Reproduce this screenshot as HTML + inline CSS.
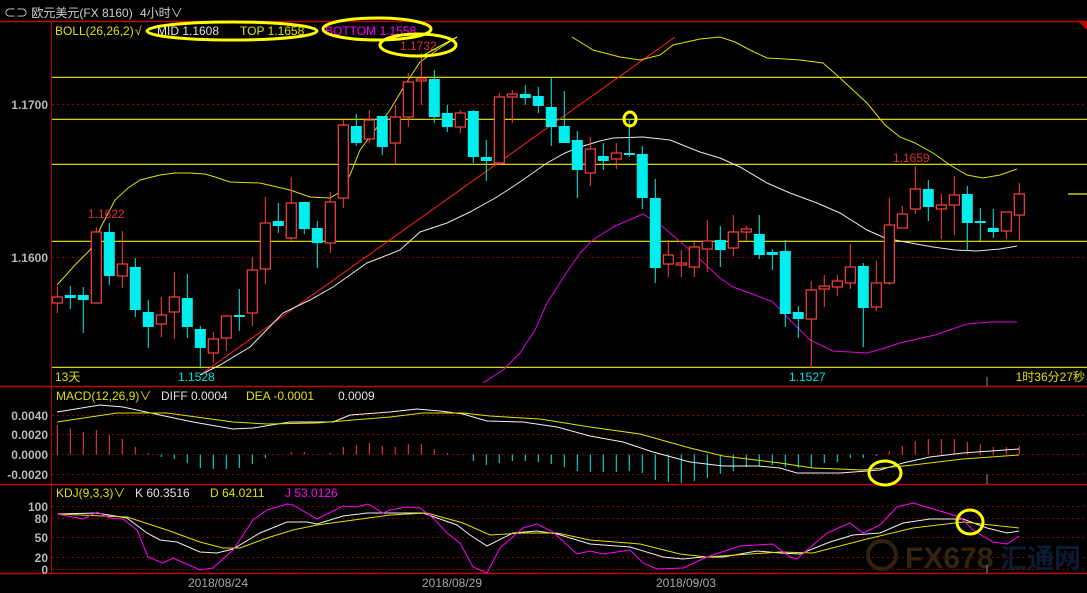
<!DOCTYPE html>
<html><head><meta charset="utf-8"><style>
html,body{margin:0;padding:0;background:#000;}
svg{display:block;font-family:"Liberation Sans","Noto Sans CJK SC",sans-serif;}
</style></head><body>
<svg id="s" width="1087" height="593" viewBox="0 0 1087 593" xmlns="http://www.w3.org/2000/svg">
<rect width="1087" height="593" fill="#000"/>
<text x="4" y="17" fill="#d0d0d0" font-size="12">⊂⊃ 欧元美元(FX 8160)</text>
<text x="140" y="17" fill="#d0d0d0" font-size="12">4小时∨</text>
<line x1="0" y1="21.5" x2="1087" y2="21.5" stroke="#c00000" stroke-width="1.5"/>
<polygon points="1079,22 1087,22 1087,30" fill="#c00000"/>
<line x1="51.5" y1="21" x2="51.5" y2="574" stroke="#c00000"/>
<line x1="0" y1="386.5" x2="1087" y2="386.5" stroke="#c00000" stroke-width="1.5"/>
<line x1="0" y1="484.5" x2="1087" y2="484.5" stroke="#c00000" stroke-width="1.5"/>
<line x1="0" y1="573.5" x2="1087" y2="573.5" stroke="#c00000" stroke-width="1.5"/>
<g stroke="#8a0000" stroke-dasharray="2,3">
<line x1="52" y1="104.5" x2="1087" y2="104.5"/><line x1="52" y1="257.5" x2="1087" y2="257.5"/>
<line x1="52" y1="415.5" x2="1087" y2="415.5"/><line x1="52" y1="434.5" x2="1087" y2="434.5"/>
<line x1="52" y1="454.5" x2="1087" y2="454.5"/><line x1="52" y1="474.5" x2="1087" y2="474.5"/>
<line x1="52" y1="506.5" x2="1087" y2="506.5"/><line x1="52" y1="518.5" x2="1087" y2="518.5"/>
<line x1="52" y1="537.5" x2="1087" y2="537.5"/><line x1="52" y1="557.5" x2="1087" y2="557.5"/>
<line x1="52" y1="569.5" x2="1087" y2="569.5"/>
</g>
<g stroke="#f0f000" stroke-width="1.2">
<line x1="52" y1="77.3" x2="1087" y2="77.3"/><line x1="52" y1="119.3" x2="1087" y2="119.3"/>
<line x1="52" y1="164.3" x2="1087" y2="164.3"/><line x1="52" y1="241.3" x2="1087" y2="241.3"/>
<line x1="52" y1="367.3" x2="1087" y2="367.3"/><line x1="1068" y1="194" x2="1087" y2="194"/>
</g>
<g fill="#b8b8b8" font-size="12" font-weight="bold" text-anchor="end">
<text x="48" y="109">1.1700</text><text x="48" y="262">1.1600</text>
<text x="48" y="420">0.0040</text><text x="48" y="439">0.0020</text>
<text x="48" y="459">0.0000</text><text x="48" y="479">-0.0020</text>
<text x="48" y="511">100</text><text x="48" y="523">80</text>
<text x="48" y="542">50</text><text x="48" y="562">20</text><text x="48" y="574">0</text>
</g>
<g fill="#a8a8a8" font-size="12" text-anchor="middle">
<text x="218" y="587">2018/08/24</text><text x="452" y="587">2018/08/29</text><text x="686" y="587">2018/09/03</text>
</g>
<text x="905" y="568" fill="#33240e" font-size="30" font-weight="bold">FX678</text>
<text x="1000" y="568" fill="#0c1a32" font-size="27" font-weight="bold">汇通网</text>
<circle cx="882" cy="555" r="14" fill="none" stroke="#33200e" stroke-width="4"/>
<g id="dyn"></g>
<g font-size="12">
<text x="55" y="35" fill="#e0e000">BOLL(26,26,2)</text><text x="135" y="35" fill="#e0e000">√</text>
<text x="157" y="35" fill="#e0e0e0">MID 1.1608</text>
<text x="240" y="35" fill="#e0e000">TOP 1.1658</text>
<text x="325" y="35" fill="#ff00ff">BOTTOM 1.1558</text>
<text x="400" y="50" fill="#e03030">1.1732</text>
<text x="88" y="218" fill="#e03030">1.1622</text>
<text x="893" y="162" fill="#e03030">1.1659</text>
<text x="178" y="381" fill="#00e0e0">1.1528</text>
<text x="789" y="381" fill="#00e0e0">1.1527</text>
<text x="55" y="381" fill="#e0e000">13天</text>
<text x="1085" y="381" fill="#e0e000" text-anchor="end">1时36分27秒</text>
<text x="56" y="400" fill="#e0e000">MACD(12,26,9)∨</text>
<text x="161" y="400" fill="#e0e0e0">DIFF 0.0004</text>
<text x="246" y="400" fill="#e0e000">DEA -0.0001</text>
<text x="338" y="400" fill="#e0e0e0">0.0009</text>
<text x="56" y="497" fill="#e0e000">KDJ(9,3,3)∨</text>
<text x="135" y="497" fill="#e0e0e0">K 60.3516</text>
<text x="210" y="497" fill="#e0e000">D 64.0211</text>
<text x="285" y="497" fill="#ff00ff">J 53.0126</text>
</g>
<g fill="none" stroke="#ffff00" stroke-width="3">
<ellipse cx="232" cy="31" rx="85" ry="9"/>
<ellipse cx="377" cy="29" rx="54" ry="11"/>
<ellipse cx="418" cy="45" rx="38" ry="11"/>
<line x1="420" y1="57" x2="457" y2="37" stroke-width="1"/>
<ellipse cx="630" cy="119" rx="6" ry="7"/>
<ellipse cx="885" cy="473" rx="16" ry="12"/>
<ellipse cx="970" cy="522" rx="13" ry="12"/>
</g>
</svg>
<script>
var C=[["r",297,303,286,313],["c",295,298,286,309],["c",295,300,287,333],["r",232,303,227,303],["c",232,276,223,285],["r",264,276,231,288],["c",267,310,258,317],["c",312,327,300,348],["r",315,324,297,337],["r",297,312,272,339],["c",298,327,274,338],["c",329,348,326,367],["r",339,353,332,363],["r",316,338,315,351],["c",315,317,289,331],["r",270,313,257,326],["r",223,269,197,284],["c",221,226,203,233],["r",203,238,177,241],["c",202,229,202,234],["c",228,243,221,268],["r",202,243,192,253],["r",125,198,120,208],["c",126,143,114,146],["r",120,139,110,143],["c",116,147,116,155],["r",117,143,105,165],["r",82,117,73,127],["r",79,81,53,105],["c",79,117,70,123],["c",113,127,105,132],["r",113,127,110,133],["c",111,157,110,163],["c",157,161,140,181],["r",97,163,93,165],["r",94,97,90,123],["c",94,98,85,105],["c",96,106,87,113],["c",107,127,78,146],["c",126,143,91,143],["c",140,170,131,198],["r",149,173,137,186],["c",156,161,143,170],["r",153,159,143,169],["c",153,155,120,157],["c",154,198,146,209],["c",198,268,179,283],["r",255,264,240,277],["r",263,265,250,277],["r",247,267,240,277],["r",241,249,220,272],["c",240,250,226,267],["r",232,248,215,256],["r",229,232,226,241],["c",234,255,215,259],["c",252,255,249,270],["c",251,314,240,327],["c",312,319,306,338],["r",290,319,281,368],["r",286,289,275,307],["r",281,287,275,296],["r",267,283,244,289],["c",266,308,263,347],["r",283,307,261,311],["r",225,283,198,285],["r",214,228,206,228],["r",189,209,166,214],["c",189,207,180,221],["r",205,209,194,239],["r",195,205,176,235],["c",194,223,186,251],["c",221,223,208,241],["c",228,232,209,238],["r",212,231,212,239],["r",194,215,183,241]];
var H=[425,428,432,430,435,439,447,453,457,459,463,468,469,469,468,464,458,454,452,452,454,453,447,445,443,446,447,444,444,449,453,454,461,465,463,461,461,462,464,467,471,472,472,472,471,473,480,482,483,481,478,474,471,467,466,465,467,468,467,463,462,458,458,456,451,446,441,439,439,439,442,444,447,447,446];
function pl(p,c,w){return '<polyline fill="none" stroke="'+c+'" stroke-width="'+(w||1)+'" points="'+p+'"/>';}
var s='';
s+='<line x1="200" y1="375" x2="675" y2="37" stroke="#ff2020" stroke-width="1"/>';
s+=pl("57,285 75,265 90,250 102,225 115,200 128,188 140,180 160,175 175,173 190,173 205,174 215,177 230,182 260,183 290,190 310,197 330,198 340,192 350,175 360,150 375,130 390,110 405,85 420,62 440,48 457,37","#e0e000");
s+=pl("572,37 593,50 620,57 640,60 660,55 673,45 700,39 720,37 735,42 750,50 767,58 785,59 800,60 823,63 840,78 867,103 885,125 900,137 915,143 933,153 950,165 967,175 983,178 1000,175 1017,169","#e0e000");
s+=pl("200,375 220,365 250,347 283,313 310,300 333,287 350,275 367,263 380,258 400,250 420,232 447,223 470,212 497,197 520,182 547,163 565,153 580,147 600,141 613,138 643,137 670,140 700,152 720,158 740,167 767,183 790,193 817,203 840,213 867,230 885,238 900,241 933,247 955,250 977,251 1000,249 1017,246","#e8e8e8");
s+=pl("483,383 503,370 520,353 535,330 547,303 565,275 580,253 593,240 613,227 643,214 663,227 690,250 720,278 733,287 755,295 773,302 790,320 810,340 833,351 867,353 885,348 900,343 935,335 967,324 990,322 1017,322","#e000e0");
for(var i=0;i<C.length;i++){var c=C[i],x=57.3+13*i,col=c[0]=="r"?"#ff4040":"#00eeee";
 if(c[0]=="r"){s+='<line x1="'+x+'" y1="'+c[3]+'" x2="'+x+'" y2="'+c[1]+'" stroke="'+col+'"/>';s+='<line x1="'+x+'" y1="'+c[2]+'" x2="'+x+'" y2="'+c[4]+'" stroke="'+col+'"/>';
  s+='<rect x="'+(x-5)+'" y="'+c[1]+'" width="10" height="'+Math.max(c[2]-c[1],1)+'" fill="#000" stroke="'+col+'" stroke-width="1.2"/>';}
 else{s+='<line x1="'+x+'" y1="'+c[3]+'" x2="'+x+'" y2="'+c[4]+'" stroke="'+col+'"/>';s+='<rect x="'+(x-5.5)+'" y="'+c[1]+'" width="11" height="'+Math.max(c[2]-c[1],2)+'" fill="'+col+'"/>';}
 var h=H[i];if(Math.abs(h-454)>=1){s+='<line x1="'+x+'" y1="454.5" x2="'+x+'" y2="'+h+'" stroke="'+(h<454?"#ff4040":"#00eeee")+'" stroke-width="1"/>';}
}
s+=pl("57,412 100,405 123,407 160,415 193,422 233,429 253,428 290,422 333,422 350,415 390,412 417,409 440,411 463,414 487,421 523,422 557,427 590,436 623,442 653,452 690,462 723,466 757,466 780,468 797,473 840,473 880,470 903,463 930,457 963,453 1019,449","#f0f0f0");
s+=pl("57,422 117,413 167,413 233,422 267,424 317,423 390,417 423,413 463,413 490,416 540,419 590,427 640,434 690,448 723,456 780,463 813,468 863,470 913,465 963,459 1019,455","#e0e000");
s+=pl("57,514 97,513 127,518 147,533 160,540 177,542 200,552 217,553 233,549 260,533 287,522 307,522 317,524 343,516 367,513 390,513 423,513 457,525 470,535 487,546 513,533 537,531 557,534 590,544 630,547 663,557 683,559 703,557 723,557 757,551 780,553 800,554 830,542 853,535 880,533 903,523 930,519 963,519 987,528 1007,533 1019,531","#f0f0f0");
s+=pl("57,514 127,517 167,530 200,542 223,548 240,548 267,538 293,530 317,525 390,515 427,513 463,523 490,535 523,533 557,533 590,540 640,544 680,554 707,557 780,552 813,553 863,540 913,528 963,522 1019,528","#e0e000");
s+=pl("57,514 83,519 97,512 110,518 123,519 137,530 148,557 163,563 173,558 200,570 213,568 233,550 253,520 267,510 287,504 293,505 317,519 343,506 357,507 368,504 383,513 390,510 407,507 420,508 433,518 447,533 460,543 473,567 487,573 500,548 523,528 537,524 553,532 577,554 590,551 603,554 630,550 643,563 657,569 683,568 707,557 740,546 773,544 790,557 797,559 813,545 827,533 850,523 863,533 880,525 897,507 913,503 930,508 943,512 960,517 973,530 993,542 1007,544 1019,536","#ff00ff");
s+='<g stroke="#909090"><line x1="987" y1="377" x2="987" y2="386"/><line x1="987" y1="474" x2="987" y2="484"/><line x1="987" y1="565" x2="987" y2="573"/></g>';
document.getElementById("dyn").innerHTML=s;
</script>
</body></html>
